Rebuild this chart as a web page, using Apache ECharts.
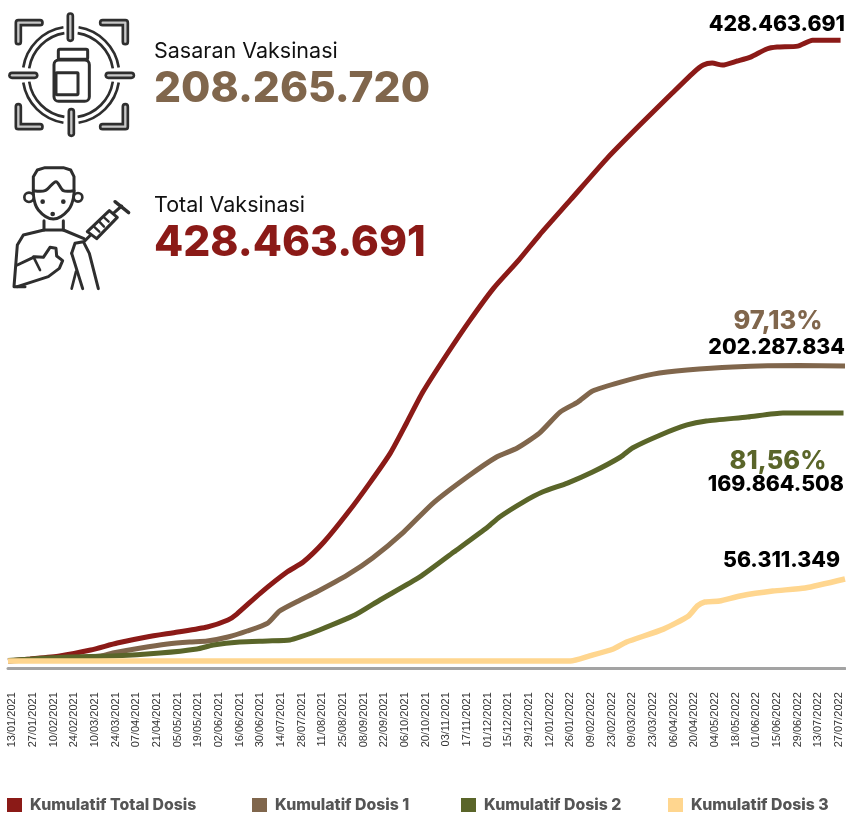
<!DOCTYPE html>
<html>
<head>
<meta charset="utf-8">
<style>
  html, body { margin: 0; padding: 0; background: #fff; }
  #VaksinasiChart { width: 846px; height: 813px; }
</style>
</head>
<body>
<div id="VaksinasiChart"></div>
<script src="https://cdn.jsdelivr.net/npm/echarts@6/dist/echarts.min.js"></script>
<script>
// tick labels, one every 14 days
const tickLabels = ['13/01/2021','27/01/2021','10/02/2021','24/02/2021','10/03/2021','24/03/2021','07/04/2021','21/04/2021','05/05/2021','19/05/2021','02/06/2021','16/06/2021','30/06/2021','14/07/2021','28/07/2021','11/08/2021','25/08/2021','08/09/2021','22/09/2021','06/10/2021','20/10/2021','03/11/2021','17/11/2021','01/12/2021','15/12/2021','29/12/2021','12/01/2022','26/01/2022','09/02/2022','23/02/2022','09/03/2022','23/03/2022','06/04/2022','20/04/2022','04/05/2022','18/05/2022','01/06/2022','15/06/2022','29/06/2022','13/07/2022','27/07/2022'];
const tickDays = tickLabels.map((_, i) => i * 14);

// days since 13/01/2021, values in millions of doses
const totalDays = [-3,12,32,53,71,91,112,132,146,152,168,186,197,211,227,242,256,267,278,294,310,326,343,357,378,403,425,447,461,468,474,481,491,500,511,518,532,542,561];
const totalVals = [0,1.4,3.5,7.6,12.4,16.6,20,23.5,28.3,32.4,46.9,61.4,68.3,82.1,102.1,122.8,143.5,164.3,185.6,211.2,235.3,257.4,276.7,294,318.2,347.1,369.9,392,405.8,411.3,412.7,411.3,414.1,416.8,422.4,423.7,424.4,428.4,428.46];
const dosis1Days = [-3,32,60,68,87,105,120,132,146,159,173,181,195,206,227,244,265,285,308,328,342,357,371,383,393,412,434,457,488,533,564];
const dosis1Vals = [0,1.7,3.5,5.5,9,11.7,13.1,13.8,16.6,20.7,26.2,34.5,42.1,47.6,59.4,71.1,89,109,127,140.8,147,157.3,171.8,178.7,186.3,192.5,198,200.8,202.9,203.9,203.6];
const dosis2Days = [-3,37,68,100,125,136,154,173,188,195,208,232,249,276,299,322,330,346,359,376,393,412,420,439,457,470,498,522,563];
const dosis2Vals = [0.4,2.8,3.5,5.5,8.3,11,13.1,13.8,14.5,16.6,21.4,31.7,42.1,58,75.2,92.5,99.4,109.7,116.6,122.8,130.4,140.8,147,156,162.9,165.6,168.4,171.2,171.2];
const dosis3Days = [-3,378,391,407,416,441,458,464,469,479,493,515,537,564];
const dosis3Vals = [0,0,3.5,8.3,13.1,22,31.1,38,40.7,41.4,44.9,48.3,50.4,56.6];

const seriesNames = ['Kumulatif Total Dosis', 'Kumulatif Dosis 1', 'Kumulatif Dosis 2', 'Kumulatif Dosis 3'];
const seriesColors = ['#8b1a17', '#80664c', '#5a6529', '#ffd68f'];
const legendLeft = [7, 252, 461, 668];

const pair = (days, vals) => days.map((d, i) => [d, vals[i]]);
const seriesData = [pair(totalDays, totalVals), pair(dosis1Days, dosis1Vals), pair(dosis2Days, dosis2Vals), pair(dosis3Days, dosis3Vals)];

const FONT = 'Inter, "Noto Sans", sans-serif';
const INK = '#2e2e2e';

// right aligned / centered captions, y is the text bottom
function caption(text, x, y, size, weight, color, align) {
  return {
    type: 'text', x: x, y: y, silent: true,
    style: { text: text, fill: color, font: weight + ' ' + size + 'px ' + FONT, textAlign: align || 'left', textVerticalAlign: 'bottom' }
  };
}

// --- icons, drawn in 3x coordinates and scaled down in the group ---
function stroke(points, w, color, smooth) {
  return { type: 'polyline', silent: true, shape: { points: points, smooth: smooth || 0 }, style: { stroke: color || INK, lineWidth: w || 8, fill: null, lineCap: 'round', lineJoin: 'round' } };
}
function hollow(points) {
  // thick dark stroke with a pale core, looks like an outlined bar
  return [stroke(points, 23), stroke(points, 7, '#c8c8c8')];
}
function ringArc(r, a, b) {
  return { type: 'arc', silent: true, shape: { cx: 213, cy: 225, r: r, startAngle: a, endAngle: b }, style: { stroke: INK, lineWidth: 8, fill: null } };
}
function box(x, y, w, h, r) {
  return { type: 'rect', silent: true, shape: { x: x, y: y, width: w, height: h, r: r || 0 }, style: { stroke: INK, lineWidth: 9, fill: '#ffffff' } };
}
function dot(cx, cy, r) {
  return { type: 'circle', silent: true, shape: { cx: cx, cy: cy, r: r }, style: { fill: INK } };
}

const targetIcon = { type: 'group', scaleX: 1 / 3, scaleY: 1 / 3, children: [].concat(
  hollow([[55,125],[55,68],[120,68]]), hollow([[308,68],[376,68],[376,125]]),
  hollow([[55,320],[55,380],[120,380]]), hollow([[308,380],[376,380],[376,320]]),
  hollow([[211,48],[211,115]]), hollow([[214,335],[214,400]]),
  hollow([[36,226],[104,226]]), hollow([[325,226],[394,226]]),
  [0, 90, 180, 270].reduce((out, a) => {
    const s = (a + 9) * Math.PI / 180, e = (a + 81) * Math.PI / 180;
    return out.concat([ringArc(145, s, e), ringArc(127, s, e)]);
  }, []),
  [box(175, 148, 88, 30, 5), box(162, 180, 106, 124, 14), box(168, 218, 66, 66, 2)]
) };

const personIcon = { type: 'group', scaleX: 1 / 3, scaleY: 1 / 3, children: [
  stroke([[100,585],[100,530],[112,510],[135,503],[190,503],[212,510],[222,530],[222,585]], 9),
  stroke([[100,585],[115,630],[160,657],[205,630],[222,585]], 9, INK, 0.4),
  stroke([[100,572],[135,572],[168,545],[190,572],[222,572]], 9, INK, 0.3),
  { type: 'circle', silent: true, shape: { cx: 87, cy: 592, r: 14 }, style: { stroke: INK, lineWidth: 8, fill: '#fff' } },
  { type: 'circle', silent: true, shape: { cx: 234, cy: 592, r: 13 }, style: { stroke: INK, lineWidth: 8, fill: '#fff' } },
  dot(128, 605, 7), dot(190, 605, 7), dot(158, 642, 7),
  stroke([[132,662],[132,690],[190,690],[190,662]], 9),
  stroke([[132,690],[70,705],[52,735],[42,860],[75,860]], 9),
  stroke([[190,690],[252,716]], 9),
  stroke([[52,795],[105,770],[130,772],[150,742],[168,745],[170,768],[188,782],[178,805],[145,830],[52,860]], 9),
  stroke([[100,770],[120,810]], 8),
  stroke([[215,760],[225,730],[250,725],[268,760],[295,866]], 9),
  stroke([[215,760],[248,866]], 9),
  stroke([[228,815],[215,866]], 8),
  stroke([[262,695],[328,632],[352,652],[290,716],[262,695]], 9),
  stroke([[345,605],[386,638]], 10),
  stroke([[340,640],[365,618]], 9),
  stroke([[255,722],[272,705]], 9),
  stroke([[282,680],[298,695]], 7), stroke([[298,665],[312,680]], 7), stroke([[312,652],[326,665]], 7)
] };

const myChart = echarts.init(document.getElementById('VaksinasiChart'), null, { renderer: 'canvas' });

myChart.setOption({
  animation: false,
  backgroundColor: '#ffffff',
  grid: { left: 8, right: 1, top: 9, height: 659.25 },
  xAxis: {
    type: 'value',
    min: -3,
    max: 564,
    splitLine: { show: false },
    axisTick: { show: false },
    axisLine: { show: true, onZero: false, lineStyle: { color: '#a3a3a3', width: 3 } },
    axisLabel: {
      customValues: tickDays,
      rotate: 90,
      margin: 24,
      fontSize: 11,
      color: '#333333',
      fontFamily: '"Liberation Sans", Arial, sans-serif',
      formatter: (v) => tickLabels[Math.round(v / 14)]
    }
  },
  yAxis: { type: 'value', min: -5, max: 450, show: false },
  legend: seriesNames.map((name, i) => ({
    data: [name],
    left: legendLeft[i],
    top: 797,
    padding: 0,
    icon: 'rect',
    itemWidth: 15,
    itemHeight: 14,
    selectedMode: false,
    textStyle: { color: '#555555', fontFamily: FONT, fontSize: 15.8, fontWeight: 800, padding: [0, 0, 0, 3] }
  })),
  series: seriesNames.map((name, i) => ({
    name: name,
    type: 'line',
    data: seriesData[i],
    color: seriesColors[i],
    showSymbol: false,
    smooth: 0.2,
    lineStyle: { width: i === 3 ? 5.5 : 5, color: seriesColors[i], cap: 'butt' },
    z: 2 + i
  })),
  graphic: { elements: [
    targetIcon,
    personIcon,
    caption('Sasaran Vaksinasi', 154, 63, 21.5, 400, '#111111'),
    caption('208.265.720', 154, 111, 42.5, 800, seriesColors[1]),
    caption('Total Vaksinasi', 154, 217, 21.5, 400, '#111111'),
    caption('428.463.691', 154, 265, 42.5, 800, seriesColors[0]),
    caption('428.463.691', 845, 35, 21.3, 800, '#000000', 'right'),
    caption('97,13%', 778, 334, 25.5, 800, seriesColors[1], 'center'),
    caption('202.287.834', 845, 358, 21.3, 800, '#000000', 'right'),
    caption('81,56%', 778, 474, 25.5, 800, seriesColors[2], 'center'),
    caption('169.864.508', 844, 495, 21.3, 800, '#000000', 'right'),
    caption('56.311.349', 840, 571, 21.3, 800, '#000000', 'right')
  ] }
});
</script>
</body>
</html>
